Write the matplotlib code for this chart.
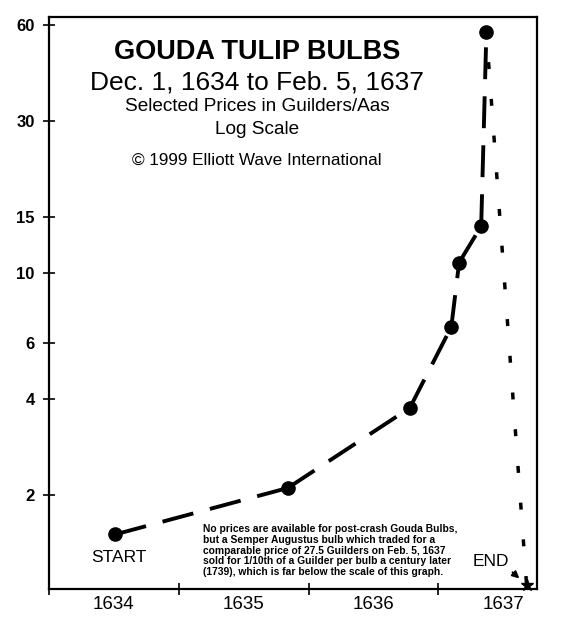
import matplotlib.pyplot as plt
import numpy as np

plt.rcParams['font.family'] = ['Liberation Sans', 'DejaVu Sans']

# data (decimal years, guilders per aas)
years  = [1634.01, 1635.34, 1636.28, 1636.60, 1636.66, 1636.83, 1636.87]
prices = [1.5, 2.1, 3.75, 6.75, 10.75, 14.0, 57.0]
end_year  = 1637.18
end_price = 1.04

ytick_vals   = [2, 4, 6, 10, 15, 30, 60]
year_labels  = [1634, 1635, 1636, 1637]
year_bounds  = [1633.5, 1634.5, 1635.5, 1636.5]

note = ("No prices are available for post-crash Gouda Bulbs,\n"
        "but a Semper Augustus bulb which traded for a\n"
        "comparable price of 27.5 Guilders on Feb. 5, 1637\n"
        "sold for 1/10th of a Guilder per bulb a century later\n"
        "(1739), which is far below the scale of this graph.")

fig = plt.figure(figsize=(5.68, 6.33), dpi=100)
ax = fig.add_axes([0.0863, 0.0695, 0.8591, 0.9036])

# dashed rise, each segment starting with a dash at its dot
for i in range(len(years) - 1):
    ax.plot(years[i:i+2], prices[i:i+2], color='black', lw=2.8,
            linestyle=(0, (8.2, 4.4)), dash_capstyle='butt')
ax.plot(years, prices, 'o', color='black', ms=9.5, ls='none')

# dotted crash down to the end
ax.plot([years[-1], end_year], [prices[-1], end_price], color='black', lw=2.5,
        linestyle=(2.0, (2.0, 8.6)), dash_capstyle='butt')
ax.plot(end_year, end_price, '*', color='black', ms=9, clip_on=False)

ax.set_yscale('log')
ax.set_ylim(1.01, 63.7)
ax.set_xlim(1633.5, 1637.26)

ax.set_yticks(ytick_vals)
ax.set_yticklabels([str(v) for v in ytick_vals], fontsize=12, fontweight='bold')
ax.yaxis.set_minor_locator(plt.NullLocator())
ax.tick_params(axis='y', which='major', direction='inout', length=8.5, width=1.2, pad=6)

ax.set_xticks(year_bounds)
ax.set_xticklabels([])
ax.set_xticks(year_labels, minor=True)
ax.set_xticklabels([str(y) for y in year_labels], minor=True, fontsize=13.5)
ax.tick_params(axis='x', which='major', direction='inout', length=8.5, width=1.2)
ax.tick_params(axis='x', which='minor', length=0, pad=5)

for s in ax.spines.values():
    s.set_linewidth(1.6)

fig.text(0.4525, 0.918, 'GOUDA TULIP BULBS', ha='center', va='center',
         fontsize=19.5, fontweight='bold')
fig.text(0.4525, 0.869, 'Dec. 1, 1634 to Feb. 5, 1637', ha='center', va='center',
         fontsize=19)
fig.text(0.4525, 0.831, 'Selected Prices in Guilders/Aas', ha='center', va='center',
         fontsize=13.7)
fig.text(0.4525, 0.796, 'Log Scale', ha='center', va='center', fontsize=13.7)
fig.text(0.4525, 0.747, '\u00a9 1999 Elliott Wave International', ha='center',
         va='center', fontsize=12.3)

ax.annotate('START', xy=(years[0], prices[0]), xytext=(3, -16.5),
            textcoords='offset points', ha='center', va='center', fontsize=12.5)
ax.annotate('END', xy=(end_year, end_price), xytext=(-26, 17),
            textcoords='offset points', ha='center', va='center', fontsize=12.5,
            arrowprops=dict(arrowstyle='-|>', color='black', lw=1.4,
                            relpos=(1, 0), shrinkA=1, shrinkB=7,
                            mutation_scale=10))

fig.text(203 / 568, 1 - 524 / 633, note, ha='left', va='top', fontsize=7.4,
         fontweight='bold', linespacing=1.1)

fig.savefig('out.png', dpi=100)
